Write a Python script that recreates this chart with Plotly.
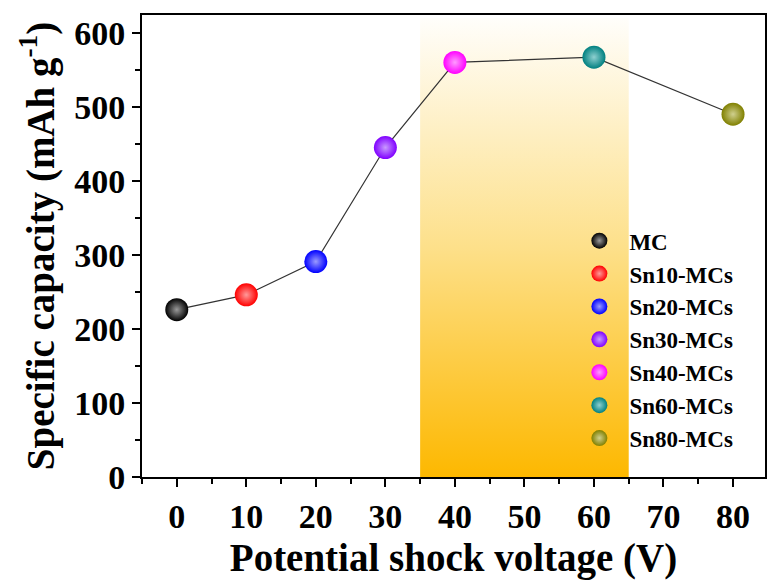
import plotly.graph_objects as go

voltage = [0, 10, 20, 30, 40, 60, 80]
capacity = [226, 246, 291, 445, 560, 567, 490]
names = ["MC", "Sn10-MCs", "Sn20-MCs", "Sn30-MCs", "Sn40-MCs", "Sn60-MCs", "Sn80-MCs"]
colors = ["#000000", "#ff0000", "#0000ff", "#8000ff", "#ff00ff", "#008080", "#808000"]
highlights = ["#9a9a9a", "#ff9a9a", "#9a9aff", "#c99aff", "#ff9aff", "#8fd0d0", "#d0d08f"]
band_x = [35, 65]
band_top = 620

FONT = "Liberation Serif"

fig = go.Figure()

# shaded gradient band
fig.add_trace(go.Scatter(
    x=[band_x[0], band_x[1], band_x[1], band_x[0], band_x[0]],
    y=[0, 0, band_top, band_top, 0],
    mode="lines", line=dict(width=0), fill="toself",
    fillgradient=dict(type="vertical",
                      colorscale=[[0, "#fdb800"], [0.5, "#fde08a"], [1, "#fffefb"]]),
    showlegend=False, hoverinfo="skip"))

# connecting line
fig.add_trace(go.Scatter(x=voltage, y=capacity, mode="lines",
                         line=dict(color="#333333", width=1.2),
                         showlegend=False, hoverinfo="skip"))

for v, c, n, col, hl in zip(voltage, capacity, names, colors, highlights):
    fig.add_trace(go.Scatter(
        x=[v], y=[c], mode="markers", name=n,
        marker=dict(size=23, color=col, line=dict(width=0),
                    gradient=dict(type="radial", color=hl))))

fig.update_layout(
    width=768, height=581,
    margin=dict(l=142, r=1, t=15, b=104),
    plot_bgcolor="white", paper_bgcolor="white",
    font=dict(family=FONT, color="black"),
    legend=dict(x=0.686, y=0.558, xanchor="left", yanchor="top",
                bgcolor="rgba(0,0,0,0)", itemwidth=50,
                font=dict(family=FONT, size=23, color="black", weight="bold"),
                itemsizing="trace", tracegroupgap=0),
    xaxis=dict(range=[-5, 84.6], tickvals=[0, 10, 20, 30, 40, 50, 60, 70, 80],
               ticks="outside", ticklen=8, tickwidth=2, tickcolor="black",
               minor=dict(dtick=5, ticks="outside", ticklen=5, tickwidth=2, tickcolor="black"),
               showline=True, linewidth=2, linecolor="black", mirror=True,
               showgrid=False, zeroline=False,
               tickfont=dict(family=FONT, size=34, color="black", weight="bold"),
               title=dict(text="Potential shock voltage (V)", standoff=10,
                          font=dict(family=FONT, size=39, color="black", weight="bold"))),
    yaxis=dict(range=[0, 624], tickvals=[0, 100, 200, 300, 400, 500, 600],
               ticks="outside", ticklen=8, tickwidth=2, tickcolor="black",
               minor=dict(dtick=50, ticks="outside", ticklen=5, tickwidth=2, tickcolor="black"),
               showline=True, linewidth=2, linecolor="black", mirror=True,
               showgrid=False, zeroline=False,
               tickfont=dict(family=FONT, size=34, color="black", weight="bold"),
               title=dict(text="Specific capacity (mAh g<sup>-1</sup>)", standoff=8,
                          font=dict(family=FONT, size=39, color="black", weight="bold"))),
)

fig.write_html("out.html")
